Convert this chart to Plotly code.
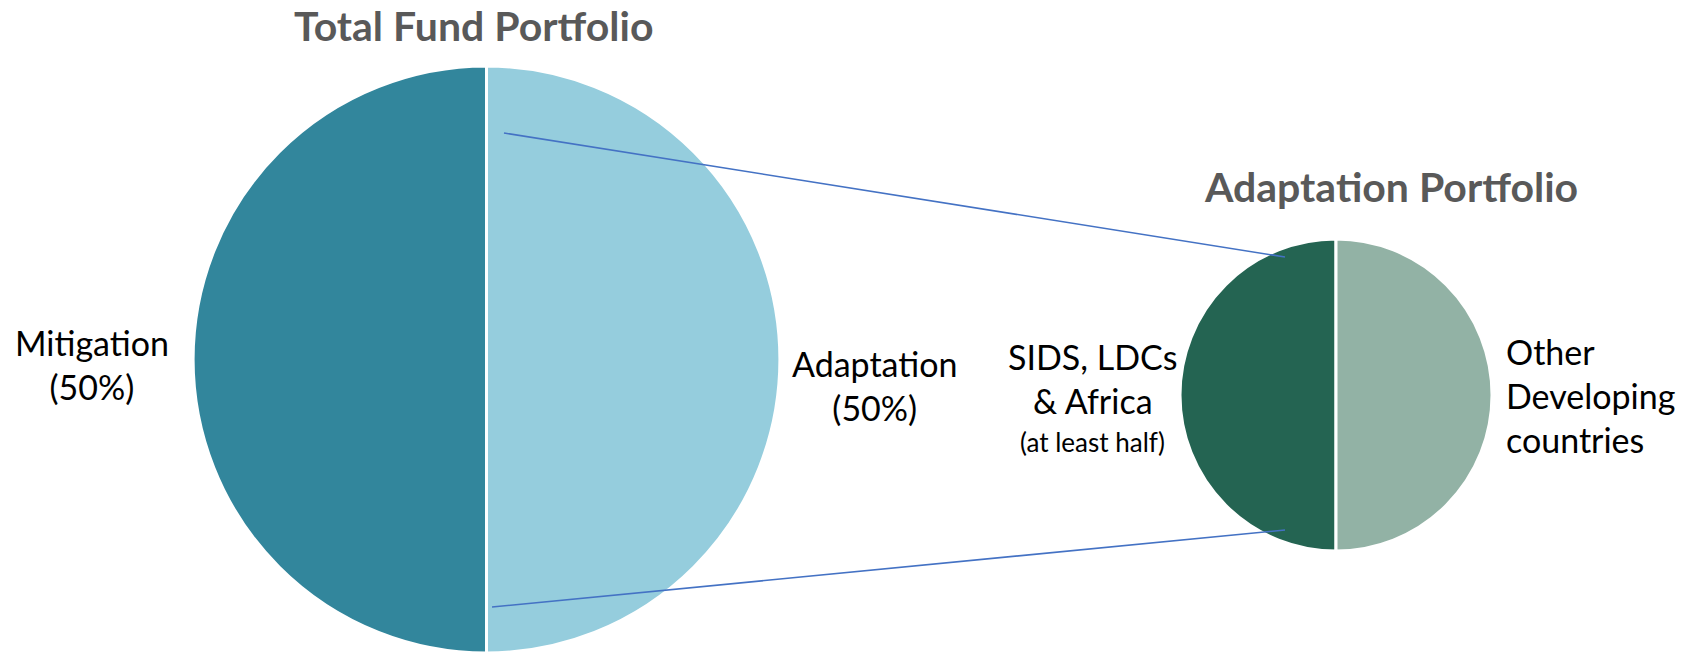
import plotly.graph_objects as go

# Data
total_labels = ["Mitigation", "Adaptation"]
total_values = [50, 50]
total_colors = ["#32869C", "#95CDDD"]

adapt_labels = ["SIDS, LDCs & Africa", "Other Developing countries"]
adapt_values = [50, 50]
adapt_colors = ["#246452", "#92B2A5"]

W, H = 1696, 653
FONT = "Lato"

def px(x):
    return x / W

def py(y):
    return 1 - y / H

fig = go.Figure()

fig.add_trace(go.Pie(
    labels=total_labels, values=total_values, sort=False,
    direction="clockwise", rotation=180,
    marker=dict(colors=total_colors, line=dict(color="white", width=3)),
    textinfo="none", hoverinfo="label+percent", showlegend=False,
    domain=dict(x=[px(193), px(780)], y=[py(653), py(66)]),
))

fig.add_trace(go.Pie(
    labels=adapt_labels, values=adapt_values, sort=False,
    direction="clockwise", rotation=180,
    marker=dict(colors=adapt_colors, line=dict(color="white", width=3)),
    textinfo="none", hoverinfo="label+percent", showlegend=False,
    domain=dict(x=[px(1180), px(1492)], y=[py(551), py(239)]),
))

# connector lines
line_style = dict(color="#4472C4", width=1.6)
fig.add_shape(type="line", xref="paper", yref="paper",
              x0=px(504), y0=py(133), x1=px(1285), y1=py(257), line=line_style)
fig.add_shape(type="line", xref="paper", yref="paper",
              x0=px(492), y0=py(607), x1=px(1285), y1=py(530), line=line_style)

def ann(text, x, y, size, color="black", bold=False, align="center", xanchor="center"):
    if bold:
        text = "<b>" + text + "</b>"
    fig.add_annotation(text=text, x=px(x), y=py(y), xref="paper", yref="paper",
                       showarrow=False, align=align, xanchor=xanchor, yanchor="middle",
                       font=dict(family=FONT, size=size, color=color))

ann("Total Fund Portfolio", 474, 26, 41, color="#595959", bold=True)
ann("Adaptation Portfolio", 1391, 186, 41, color="#595959", bold=True)
ann("Mitigation<br>(50%)", 92, 364, 34)
ann("Adaptation<br>(50%)", 874, 386, 34)
ann("SIDS, LDCs<br>& Africa", 1092, 378, 34)
ann("(at least half)", 1092, 442, 26)
ann("Other<br>Developing<br>countries", 1504, 395, 34, align="left", xanchor="left")

fig.update_layout(
    width=W, height=H,
    margin=dict(l=0, r=0, t=0, b=0),
    paper_bgcolor="white", plot_bgcolor="white",
)

fig.write_html("out.html", config={"displayModeBar": False},
               post_script="document.body.style.margin='0';")
